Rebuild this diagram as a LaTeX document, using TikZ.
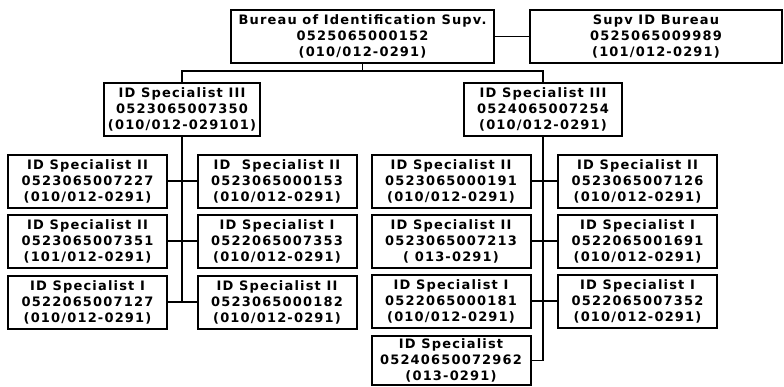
\documentclass[tikz,border=0pt]{standalone}
\usepackage{fontspec}
\newfontfamily\boxfont[LetterSpace=9]{DejaVu Sans}
\begin{document}
\begin{tikzpicture}[x=1pt,y=-1pt,
  orgbox/.style={draw=black, line width=2pt, fill=white, inner sep=0pt, align=center,
    font=\boxfont\bfseries\fontsize{13}{16}\selectfont},
  wbox/.style={orgbox, minimum width=159pt, minimum height=53pt},
  conn/.style={draw=black, line width=1.3pt}]
\useasboundingbox (0,0) rectangle (784,386);
% top level
\node[orgbox, minimum width=263pt, minimum height=53pt] (top) at (362.5,36.5)
  {Bureau of Identification Supv.\\0525065000152\\(010/012-0291)};
\node[orgbox, minimum width=252pt, minimum height=53pt] (supv) at (656,36.5)
  {Supv ID Bureau\\0525065009989\\(101/012-0291)};
% level 2
\node[orgbox, minimum width=156pt, minimum height=53pt] (l3) at (182,109.5)
  {ID Specialist III\\0523065007350\\(010/012-029101)};
\node[orgbox, minimum width=158pt, minimum height=53pt] (r3) at (543,109)
  {ID Specialist III\\0524065007254\\(010/012-0291)};
% left group
\node[wbox] (la1) at (87.5,181) {ID Specialist II\\0523065007227\\(010/012-0291)};
\node[wbox] (lb1) at (277,181) {ID\ \ Specialist II\\0523065000153\\(010/012-0291)};
\node[wbox] (la2) at (87.5,241) {ID Specialist II\\0523065007351\\(101/012-0291)};
\node[wbox] (lb2) at (277,241) {ID Specialist I\\0522065007353\\(010/012-0291)};
\node[wbox] (la3) at (87.5,302) {ID Specialist I\\0522065007127\\(010/012-0291)};
\node[wbox] (lb3) at (277,302) {ID Specialist II\\0523065000182\\(010/012-0291)};
% right group
\node[wbox] (ra1) at (451,181) {ID Specialist II\\0523065000191\\(010/012-0291)};
\node[wbox] (rb1) at (637.5,181) {ID Specialist II\\0523065007126\\(010/012-0291)};
\node[wbox] (ra2) at (451,241) {ID Specialist II\\0523065007213\\( 013-0291)};
\node[wbox] (rb2) at (637.5,241) {ID Specialist I\\0522065001691\\(010/012-0291)};
\node[wbox] (ra3) at (451,301) {ID Specialist I\\0522065000181\\(010/012-0291)};
\node[wbox] (rb3) at (637.5,301) {ID Specialist I\\0522065007352\\(010/012-0291)};
\node[wbox, minimum height=49pt] (ra4) at (451,360.5) {ID Specialist\\05240650072962\\(013-0291)};
% connectors
\coordinate (bus) at (362.5,71);
\draw[conn] (top.east) -- (supv.west);
\draw[conn] (top.south) -- (bus);
\draw[conn] (l3.north) -- (l3.north |- bus) -- (r3.north |- bus) -- (r3.north);
\draw[conn] (l3.south) -- (l3.south |- la3.east);
\draw[conn] (la1.east) -- (lb1.west);
\draw[conn] (la2.east) -- (lb2.west);
\draw[conn] (la3.east) -- (lb3.west);
\draw[conn] (r3.south) |- (ra4.east);
\draw[conn] (ra1.east) -- (rb1.west);
\draw[conn] (ra2.east) -- (rb2.west);
\draw[conn] (ra3.east) -- (rb3.west);
\end{tikzpicture}
\end{document}
